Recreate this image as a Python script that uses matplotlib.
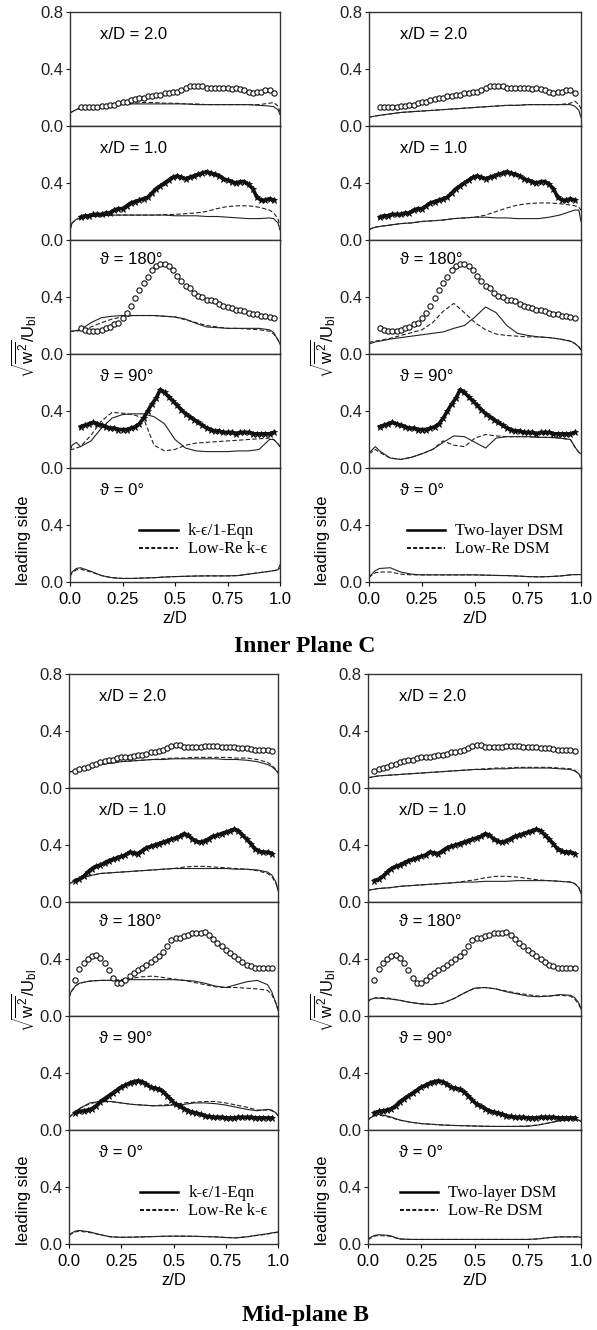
import numpy as np
import matplotlib.pyplot as plt
from matplotlib.lines import Line2D

plt.rcParams['font.family'] = ['Liberation Sans', 'DejaVu Sans']
plt.rcParams['mathtext.fontset'] = 'custom'
plt.rcParams['mathtext.rm'] = 'Liberation Sans'
plt.rcParams['mathtext.it'] = 'Liberation Sans'

# %% -------------------------------------------------------------------------
# DATA
# ----------------------------------------------------------------------------
Z_LINE = [0.0, 0.01, 0.03, 0.05, 0.10, 0.15, 0.20, 0.25, 0.30, 0.35, 0.40, 0.45, 0.50,
          0.55, 0.60, 0.65, 0.70, 0.75, 0.80, 0.85, 0.90, 0.95, 0.97, 0.99, 1.0]
Z_EXP_C = [0.05, 0.07, 0.09, 0.11, 0.13, 0.15, 0.17, 0.19, 0.21, 0.23, 0.25, 0.27, 0.29,
           0.31, 0.33, 0.35, 0.37, 0.39, 0.41, 0.43, 0.45, 0.47, 0.49, 0.51, 0.53, 0.55,
           0.57, 0.59, 0.61, 0.63, 0.65, 0.67, 0.69, 0.71, 0.73, 0.75, 0.77, 0.79, 0.81,
           0.83, 0.85, 0.87, 0.89, 0.91, 0.93, 0.95, 0.97]
Z_EXP_B = [0.03] + Z_EXP_C

# Inner plane C - experiment
C_XD2_EXP = [.13, .13, .13, .13, .13, .14, .14, .15, .15, .16, .17, .17, .18, .19, .20, .20,
             .21, .21, .22, .22, .23, .23, .24, .24, .25, .27, .28, .28, .28, .28, .27, .27,
             .27, .27, .27, .27, .26, .27, .26, .25, .24, .23, .24, .24, .25, .25, .23]
C_XD1_EXP = [.16, .17, .17, .18, .18, .18, .19, .19, .21, .22, .22, .24, .26, .27, .28, .29,
             .30, .33, .36, .38, .40, .42, .44, .45, .44, .43, .44, .45, .46, .47, .48, .47,
             .46, .45, .43, .42, .41, .40, .41, .41, .39, .36, .30, .28, .28, .29, .28]
C_T180_EXP = [.18, .17, .16, .16, .16, .17, .18, .19, .21, .22, .25, .29, .34, .39, .45, .50,
              .54, .59, .62, .63, .63, .62, .59, .55, .51, .48, .46, .43, .41, .40, .38, .38,
              .37, .35, .34, .33, .32, .31, .31, .30, .29, .28, .28, .27, .27, .26, .25]
C_T90_EXP = [.29, .30, .31, .32, .31, .30, .29, .28, .28, .27, .27, .27, .28, .29, .31, .35,
             .40, .45, .49, .55, .53, .50, .47, .44, .41, .38, .36, .34, .32, .30, .28, .27,
             .26, .26, .25, .25, .25, .24, .25, .25, .25, .24, .24, .24, .24, .24, .25]

# Inner plane C - k-eps/1-Eqn (solid), Low-Re k-eps (dashed)
C_XD2_KE1 = [0.09, 0.10, 0.115, 0.125, 0.135, 0.14, 0.145, 0.15, 0.155, 0.155, 0.155, 0.155, 0.155,
             0.155, 0.15, 0.15, 0.15, 0.15, 0.15, 0.15, 0.145, 0.14, 0.135, 0.115, 0.08]
C_XD2_LRKE = [0.09, 0.10, 0.115, 0.125, 0.135, 0.145, 0.15, 0.155, 0.16, 0.165, 0.165, 0.16, 0.16,
              0.155, 0.155, 0.15, 0.15, 0.15, 0.15, 0.15, 0.15, 0.16, 0.165, 0.14, 0.10]
C_XD1_KE1 = [0.07, 0.12, 0.145, 0.155, 0.165, 0.17, 0.175, 0.175, 0.175, 0.175, 0.175, 0.175, 0.17,
             0.17, 0.17, 0.165, 0.165, 0.16, 0.155, 0.15, 0.15, 0.155, 0.15, 0.12, 0.07]
C_XD1_LRKE = [0.07, 0.12, 0.145, 0.155, 0.165, 0.17, 0.175, 0.175, 0.175, 0.175, 0.175, 0.178, 0.18,
              0.185, 0.19, 0.20, 0.22, 0.235, 0.24, 0.24, 0.23, 0.21, 0.19, 0.15, 0.10]
C_T180_KE1 = [0.16, 0.16, 0.165, 0.17, 0.22, 0.255, 0.265, 0.27, 0.27, 0.27, 0.27, 0.265, 0.26,
              0.245, 0.215, 0.19, 0.185, 0.18, 0.18, 0.18, 0.18, 0.17, 0.15, 0.10, 0.07]
C_T180_LRKE = [0.16, 0.16, 0.16, 0.165, 0.19, 0.22, 0.245, 0.26, 0.27, 0.27, 0.27, 0.265, 0.26,
               0.24, 0.22, 0.20, 0.19, 0.18, 0.18, 0.175, 0.17, 0.16, 0.14, 0.10, 0.07]
C_T90_KE1 = [0.12, 0.16, 0.18, 0.15, 0.19, 0.28, 0.35, 0.375, 0.38, 0.38, 0.36, 0.31, 0.20,
             0.14, 0.12, 0.115, 0.115, 0.115, 0.12, 0.12, 0.13, 0.20, 0.20, 0.17, 0.15]
C_T90_LRKE = [0.13, 0.13, 0.14, 0.15, 0.23, 0.33, 0.39, 0.385, 0.375, 0.35, 0.16, 0.12, 0.13,
              0.16, 0.175, 0.18, 0.185, 0.19, 0.195, 0.20, 0.205, 0.21, 0.20, 0.17, 0.15]
C_T0_KE1 = [0.04, 0.07, 0.095, 0.10, 0.075, 0.045, 0.03, 0.025, 0.025, 0.028, 0.03, 0.035, 0.038,
            0.04, 0.042, 0.043, 0.043, 0.043, 0.045, 0.055, 0.065, 0.075, 0.08, 0.085, 0.12]
C_T0_LRKE = [0.04, 0.065, 0.085, 0.09, 0.07, 0.045, 0.03, 0.025, 0.025, 0.028, 0.03, 0.035, 0.038,
             0.04, 0.042, 0.043, 0.043, 0.043, 0.045, 0.055, 0.065, 0.075, 0.08, 0.085, 0.10]

# Inner plane C - Two-layer DSM (solid), Low-Re DSM (dashed)
C_XD2_TLDSM = [0.06, 0.065, 0.07, 0.075, 0.085, 0.095, 0.10, 0.105, 0.11, 0.115, 0.12, 0.125, 0.13,
               0.135, 0.14, 0.145, 0.145, 0.15, 0.15, 0.15, 0.15, 0.15, 0.14, 0.11, 0.06]
C_XD2_LRDSM = [0.06, 0.065, 0.07, 0.075, 0.085, 0.095, 0.10, 0.105, 0.11, 0.115, 0.12, 0.125, 0.13,
               0.135, 0.14, 0.145, 0.145, 0.15, 0.15, 0.15, 0.15, 0.16, 0.175, 0.15, 0.12]
C_XD1_TLDSM = [0.07, 0.08, 0.09, 0.095, 0.105, 0.115, 0.12, 0.13, 0.135, 0.14, 0.15, 0.155, 0.16,
               0.16, 0.155, 0.155, 0.15, 0.15, 0.15, 0.16, 0.175, 0.20, 0.21, 0.21, 0.13]
C_XD1_LRDSM = [0.07, 0.08, 0.09, 0.095, 0.105, 0.115, 0.12, 0.13, 0.135, 0.14, 0.15, 0.155, 0.16,
               0.175, 0.20, 0.225, 0.245, 0.255, 0.26, 0.26, 0.255, 0.245, 0.24, 0.23, 0.21]
C_T180_TLDSM = [0.07, 0.075, 0.085, 0.09, 0.105, 0.115, 0.125, 0.135, 0.145, 0.155, 0.18, 0.20, 0.26,
                0.33, 0.29, 0.20, 0.145, 0.13, 0.12, 0.115, 0.105, 0.09, 0.075, 0.05, 0.03]
C_T180_LRDSM = [0.08, 0.085, 0.09, 0.095, 0.11, 0.13, 0.15, 0.17, 0.22, 0.30, 0.355, 0.29, 0.22,
                0.17, 0.14, 0.13, 0.125, 0.12, 0.12, 0.115, 0.105, 0.09, 0.075, 0.05, 0.03]
C_T90_TLDSM = [0.10, 0.12, 0.15, 0.12, 0.07, 0.06, 0.075, 0.10, 0.13, 0.18, 0.225, 0.22, 0.18,
               0.14, 0.21, 0.22, 0.22, 0.22, 0.215, 0.215, 0.21, 0.20, 0.15, 0.11, 0.10]
C_T90_LRDSM = [0.10, 0.11, 0.13, 0.11, 0.07, 0.06, 0.075, 0.10, 0.13, 0.19, 0.16, 0.15, 0.21,
               0.235, 0.225, 0.22, 0.22, 0.22, 0.215, 0.215, 0.21, 0.20, 0.15, 0.11, 0.10]
C_T0_TLDSM = [0.03, 0.05, 0.08, 0.095, 0.10, 0.07, 0.055, 0.05, 0.05, 0.05, 0.05, 0.05, 0.05,
              0.048, 0.046, 0.045, 0.042, 0.038, 0.036, 0.038, 0.042, 0.05, 0.052, 0.052, 0.052]
C_T0_LRDSM = [0.03, 0.045, 0.065, 0.07, 0.07, 0.055, 0.05, 0.05, 0.05, 0.05, 0.05, 0.05, 0.05,
              0.048, 0.046, 0.045, 0.042, 0.038, 0.036, 0.038, 0.042, 0.05, 0.052, 0.052, 0.052]

# Mid-plane B - experiment
B_XD2_EXP = [.12, .13, .14, .15, .16, .17, .18, .19, .195, .20, .21, .215, .22, .22, .225, .23,
             .235, .24, .25, .255, .26, .27, .28, .295, .30, .30, .29, .285, .285, .29, .29,
             .295, .295, .295, .295, .29, .29, .285, .285, .28, .28, .28, .275, .27, .27, .265,
             .265, .26]
B_XD1_EXP = [.15, .16, .18, .21, .235, .25, .26, .275, .29, .30, .31, .32, .33, .35, .345, .34,
             .36, .38, .39, .40, .41, .42, .43, .44, .45, .46, .48, .47, .44, .425, .42, .43,
             .445, .46, .47, .48, .49, .50, .51, .50, .47, .44, .41, .37, .355, .35, .35, .34]
B_T180_EXP = [.25, .33, .37, .40, .42, .43, .41, .37, .32, .27, .23, .23, .25, .28, .30, .32,
              .34, .36, .38, .40, .42, .45, .49, .53, .55, .55, .56, .57, .58, .58, .58, .59,
              .57, .54, .51, .49, .46, .44, .42, .40, .38, .36, .35, .34, .335, .335, .335, .335]
B_T90_EXP = [.12, .13, .135, .14, .15, .17, .20, .22, .24, .26, .28, .30, .315, .33, .34, .345,
             .34, .32, .30, .295, .285, .27, .24, .21, .18, .165, .15, .135, .125, .12, .11, .10,
             .095, .09, .09, .09, .085, .085, .085, .09, .09, .09, .09, .085, .085, .085, .085, .085]

# Mid-plane B - k-eps/1-Eqn (solid), Low-Re k-eps (dashed)
B_XD2_KE1 = [0.11, 0.115, 0.12, 0.13, 0.15, 0.165, 0.175, 0.185, 0.19, 0.195, 0.20, 0.20, 0.205,
             0.205, 0.205, 0.205, 0.205, 0.20, 0.20, 0.195, 0.185, 0.165, 0.15, 0.125, 0.105]
B_XD2_LRKE = [0.11, 0.115, 0.12, 0.13, 0.15, 0.165, 0.175, 0.185, 0.19, 0.195, 0.20, 0.205, 0.21,
              0.21, 0.215, 0.215, 0.215, 0.215, 0.21, 0.21, 0.20, 0.18, 0.16, 0.13, 0.11]
B_XD1_KE1 = [0.13, 0.135, 0.15, 0.16, 0.185, 0.20, 0.205, 0.21, 0.215, 0.22, 0.225, 0.23, 0.235,
             0.235, 0.235, 0.235, 0.235, 0.235, 0.23, 0.23, 0.225, 0.21, 0.19, 0.14, 0.08]
B_XD1_LRKE = [0.13, 0.135, 0.15, 0.16, 0.185, 0.20, 0.205, 0.21, 0.215, 0.22, 0.225, 0.23, 0.235,
              0.245, 0.25, 0.25, 0.245, 0.24, 0.235, 0.23, 0.22, 0.20, 0.18, 0.13, 0.09]
B_T180_KE1 = [0.13, 0.17, 0.21, 0.23, 0.245, 0.25, 0.25, 0.25, 0.255, 0.255, 0.255, 0.255, 0.255,
              0.25, 0.245, 0.23, 0.21, 0.20, 0.22, 0.24, 0.25, 0.22, 0.17, 0.09, 0.04]
B_T180_LRKE = [0.13, 0.17, 0.21, 0.23, 0.245, 0.25, 0.25, 0.255, 0.265, 0.275, 0.28, 0.27, 0.26,
               0.25, 0.235, 0.22, 0.205, 0.20, 0.20, 0.195, 0.19, 0.18, 0.15, 0.09, 0.05]
B_T90_KE1 = [0.09, 0.10, 0.13, 0.15, 0.19, 0.20, 0.20, 0.19, 0.18, 0.175, 0.17, 0.17, 0.175,
             0.18, 0.19, 0.19, 0.185, 0.175, 0.16, 0.145, 0.135, 0.145, 0.14, 0.12, 0.10]
B_T90_LRKE = [0.09, 0.10, 0.13, 0.15, 0.185, 0.20, 0.20, 0.19, 0.18, 0.175, 0.17, 0.175, 0.18,
              0.19, 0.195, 0.20, 0.20, 0.19, 0.175, 0.16, 0.14, 0.14, 0.135, 0.12, 0.10]
B_T0_KE1 = [0.06, 0.075, 0.09, 0.095, 0.085, 0.065, 0.05, 0.047, 0.048, 0.05, 0.052, 0.054, 0.055,
            0.055, 0.054, 0.052, 0.05, 0.045, 0.043, 0.05, 0.062, 0.072, 0.078, 0.082, 0.085]
B_T0_LRKE = [0.06, 0.07, 0.085, 0.09, 0.08, 0.065, 0.05, 0.047, 0.048, 0.05, 0.052, 0.054, 0.055,
             0.055, 0.054, 0.052, 0.05, 0.046, 0.044, 0.05, 0.06, 0.07, 0.076, 0.08, 0.083]

# Mid-plane B - Two-layer DSM (solid), Low-Re DSM (dashed)
B_XD2_TLDSM = [0.07, 0.075, 0.08, 0.085, 0.09, 0.095, 0.10, 0.105, 0.11, 0.115, 0.12, 0.125, 0.13,
               0.13, 0.135, 0.135, 0.14, 0.14, 0.14, 0.14, 0.135, 0.13, 0.12, 0.10, 0.07]
B_XD2_LRDSM = [0.07, 0.075, 0.08, 0.085, 0.09, 0.095, 0.10, 0.105, 0.11, 0.115, 0.12, 0.125, 0.13,
               0.135, 0.14, 0.14, 0.145, 0.145, 0.145, 0.145, 0.14, 0.135, 0.125, 0.10, 0.07]
B_XD1_TLDSM = [0.08, 0.085, 0.09, 0.095, 0.10, 0.11, 0.115, 0.12, 0.125, 0.13, 0.135, 0.14, 0.14,
               0.145, 0.145, 0.145, 0.15, 0.15, 0.15, 0.15, 0.145, 0.14, 0.13, 0.10, 0.06]
B_XD1_LRDSM = [0.08, 0.085, 0.09, 0.095, 0.10, 0.11, 0.115, 0.12, 0.125, 0.13, 0.135, 0.145, 0.155,
               0.17, 0.18, 0.18, 0.175, 0.165, 0.155, 0.15, 0.145, 0.14, 0.13, 0.10, 0.06]
B_T180_TLDSM = [0.10, 0.115, 0.125, 0.125, 0.12, 0.11, 0.095, 0.085, 0.08, 0.09, 0.12, 0.16, 0.195,
                0.20, 0.19, 0.17, 0.155, 0.14, 0.135, 0.14, 0.15, 0.145, 0.13, 0.09, 0.05]
B_T180_LRDSM = [0.10, 0.115, 0.125, 0.13, 0.125, 0.11, 0.095, 0.085, 0.08, 0.09, 0.12, 0.16, 0.195,
                0.20, 0.19, 0.175, 0.16, 0.15, 0.14, 0.14, 0.145, 0.14, 0.12, 0.08, 0.05]
B_T90_TLDSM = [0.07, 0.085, 0.10, 0.11, 0.095, 0.07, 0.055, 0.045, 0.04, 0.035, 0.032, 0.03, 0.028,
               0.026, 0.025, 0.025, 0.025, 0.026, 0.035, 0.05, 0.065, 0.075, 0.075, 0.07, 0.06]
B_T90_LRDSM = [0.07, 0.085, 0.10, 0.105, 0.09, 0.068, 0.055, 0.045, 0.04, 0.035, 0.032, 0.03, 0.028,
               0.026, 0.025, 0.025, 0.026, 0.028, 0.036, 0.05, 0.065, 0.072, 0.072, 0.068, 0.06]
B_T0_TLDSM = [0.03, 0.045, 0.06, 0.065, 0.06, 0.035, 0.032, 0.032, 0.032, 0.032, 0.032, 0.032, 0.032,
              0.032, 0.032, 0.032, 0.032, 0.032, 0.036, 0.045, 0.05, 0.05, 0.05, 0.05, 0.045]
B_T0_LRDSM = [0.03, 0.04, 0.055, 0.06, 0.055, 0.035, 0.032, 0.032, 0.032, 0.032, 0.032, 0.032, 0.032,
              0.032, 0.032, 0.032, 0.032, 0.032, 0.036, 0.045, 0.05, 0.05, 0.05, 0.05, 0.045]

PANEL_LABELS = ['x/D = 2.0', 'x/D = 1.0', '\u03d1 = 180\u00b0', '\u03d1 = 90\u00b0', '\u03d1 = 0\u00b0']
X_TICKS = [0.0, 0.25, 0.5, 0.75, 1.0]
X_TICKLABELS = ['0.0', '0.25', '0.5', '0.75', '1.0']
KE_LABELS = ['k-\u03f5/1-Eqn', 'Low-Re k-\u03f5']
DSM_LABELS = ['Two-layer DSM', 'Low-Re DSM']

# per group: experiment grid + (exp, marker) per panel, lines per column
GROUPS = [
    dict(title='Inner Plane C', top=12, title_y=646, zexp=Z_EXP_C,
         cols=[(70, 280), (369, 581)],
         exp=[(C_XD2_EXP, 'o'), (C_XD1_EXP, '*'), (C_T180_EXP, 'o'), (C_T90_EXP, '*'), (None, None)],
         lines=[[(C_XD2_KE1, C_XD2_LRKE), (C_XD1_KE1, C_XD1_LRKE), (C_T180_KE1, C_T180_LRKE),
                 (C_T90_KE1, C_T90_LRKE), (C_T0_KE1, C_T0_LRKE)],
                [(C_XD2_TLDSM, C_XD2_LRDSM), (C_XD1_TLDSM, C_XD1_LRDSM), (C_T180_TLDSM, C_T180_LRDSM),
                 (C_T90_TLDSM, C_T90_LRDSM), (C_T0_TLDSM, C_T0_LRDSM)]],
         leg_x=[0.33, 0.18], ylab_y=346, lead_y=540),
    dict(title='Mid-plane B', top=674, title_y=1315, zexp=Z_EXP_B,
         cols=[(69, 278), (368, 581)],
         exp=[(B_XD2_EXP, 'o'), (B_XD1_EXP, '*'), (B_T180_EXP, 'o'), (B_T90_EXP, '*'), (None, None)],
         lines=[[(B_XD2_KE1, B_XD2_LRKE), (B_XD1_KE1, B_XD1_LRKE), (B_T180_KE1, B_T180_LRKE),
                 (B_T90_KE1, B_T90_LRKE), (B_T0_KE1, B_T0_LRKE)],
                [(B_XD2_TLDSM, B_XD2_LRDSM), (B_XD1_TLDSM, B_XD1_LRDSM), (B_T180_TLDSM, B_T180_LRDSM),
                 (B_T90_TLDSM, B_T90_LRDSM), (B_T0_TLDSM, B_T0_LRDSM)]],
         leg_x=[0.34, 0.15], ylab_y=1000, lead_y=1200),
]

# %% -------------------------------------------------------------------------
# PLOT
# ----------------------------------------------------------------------------
W, H = 597, 1330
PH = 114  # panel height in px
fig = plt.figure(figsize=(W / 100, H / 100), dpi=100)
fig.patch.set_facecolor('white')

ylab = r'$\sqrt{\overline{\mathrm{w}^2}}/\mathrm{U}_{\mathrm{bl}}$'

for g in GROUPS:
    for ci, (x0, x1) in enumerate(g['cols']):
        for pi in range(5):
            ytop = g['top'] + PH * pi
            ax = fig.add_axes([x0 / W, 1 - (ytop + PH) / H, (x1 - x0) / W, PH / H])
            ax.set_xlim(0, 1)
            ax.set_ylim(0, 0.8)
            yt = [0.0, 0.4, 0.8] if pi == 0 else [0.0, 0.4]
            ax.set_yticks(yt)
            ax.set_yticklabels(['%.1f' % v for v in yt], fontsize=12)
            ax.tick_params(axis='y', direction='out', length=3, width=0.8, pad=1.5, colors='#222222')
            for s in ax.spines.values():
                s.set_linewidth(1.0)
                s.set_color('#333333')
            if pi == 4:
                ax.set_xticks(X_TICKS)
                ax.set_xticklabels(X_TICKLABELS, fontsize=12)
                ax.tick_params(axis='x', direction='out', length=3, width=0.8, pad=4)
                ax.set_xlabel('z/D', fontsize=12, labelpad=3)
            else:
                ax.set_xticks([])

            ydat, mk = g['exp'][pi]
            if mk == 'o':
                ax.plot(g['zexp'], ydat, 'o', mfc='white', mec='#111111', ms=3.8, mew=0.8, zorder=3)
            elif mk == '*':
                ax.plot(g['zexp'], ydat, '-', color='#111111', lw=2.6, zorder=3)
                ax.plot(g['zexp'], ydat, '*', color='#111111', ms=5, mew=0.6, zorder=3)

            sol, das = g['lines'][ci][pi]
            ax.plot(Z_LINE, sol, '-', color='#222222', lw=0.8)
            ax.plot(Z_LINE, das, color='#222222', lw=0.8, ls=(0, (4, 2)))

            ax.text(0.145, 0.83 if pi == 2 else 0.80, PANEL_LABELS[pi], transform=ax.transAxes,
                    fontsize=12, va='center', ha='left')

            if pi == 4:
                handles = [Line2D([], [], color='black', lw=1.8),
                           Line2D([], [], color='black', lw=1.3, ls=(0, (2.2, 1.2)))]
                ax.legend(handles, KE_LABELS if ci == 0 else DSM_LABELS, loc='center left',
                          bbox_to_anchor=(g['leg_x'][ci], 0.365), frameon=False,
                          prop={'family': ['Liberation Serif', 'DejaVu Serif'], 'size': 12},
                          handlelength=2.3, handletextpad=0.6, labelspacing=0.12,
                          borderaxespad=0, borderpad=0)

        xl = 24 if ci == 0 else 323
        fig.text(xl / W, 1 - g['ylab_y'] / H, ylab, rotation=90, fontsize=12,
                 ha='center', va='center')
        fig.text(xl / W, 1 - g['lead_y'] / H, 'leading side', rotation=90, fontsize=12,
                 ha='center', va='center')

    fig.text(305 / W, 1 - g['title_y'] / H, g['title'], fontsize=17, fontweight='bold',
             family=['Liberation Serif', 'DejaVu Serif'], ha='center', va='center')

plt.savefig('out.png', dpi=100, facecolor='white')
